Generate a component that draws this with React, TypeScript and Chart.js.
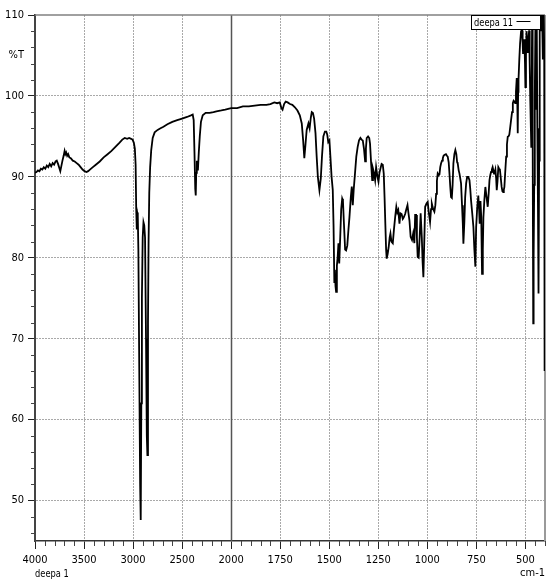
import React, { useEffect, useRef } from 'react';
import { Chart, registerables } from 'chart.js';

Chart.register(...registerables);

// ---- data ----
const wavenumbers: number[] = [
  4000, 3985, 3970, 3955, 3940, 3925, 3910, 3895, 3880, 3865, 3850, 3835, 3820, 3805, 3790, 3778, 3765, 3752, 3742, 3732,
  3720, 3708, 3698, 3690, 3682, 3672, 3662, 3650, 3635, 3615, 3595, 3575, 3555, 3535, 3515, 3495, 3475, 3458, 3440, 3410,
  3380, 3340, 3300, 3260, 3220, 3180, 3140, 3110, 3085, 3060, 3040, 3020, 3005, 2992, 2982, 2974, 2968, 2962, 2958, 2952,
  2946, 2938, 2928, 2922, 2916, 2910, 2902, 2894, 2886, 2878, 2868, 2860, 2854, 2848, 2842, 2835, 2826, 2815, 2800, 2780,
  2750, 2720, 2690, 2650, 2600, 2550, 2500, 2450, 2410, 2392, 2382, 2374, 2366, 2361, 2356, 2350, 2345, 2339, 2330, 2320,
  2308, 2290, 2260, 2220, 2180, 2150, 2100, 2060, 2030, 2000, 1970, 1940, 1910, 1880, 1850, 1820, 1800, 1780, 1765, 1752,
  1744, 1738, 1730, 1722, 1712, 1700, 1688, 1675, 1662, 1650, 1640, 1633, 1627, 1621, 1615, 1606, 1600, 1594, 1589, 1583,
  1577, 1570, 1564, 1558, 1550, 1543, 1537, 1530, 1522, 1515, 1510, 1505, 1499, 1494, 1488, 1482, 1478, 1474, 1471, 1468,
  1465, 1461, 1457, 1453, 1449, 1444, 1439, 1434, 1430, 1425, 1419, 1414, 1408, 1402, 1397, 1390, 1385, 1380, 1375, 1370,
  1362, 1355, 1348, 1341, 1335, 1329, 1323, 1317, 1313, 1309, 1302, 1296, 1292, 1286, 1281, 1277, 1272, 1266, 1261, 1254,
  1249, 1244, 1239, 1233, 1227, 1222, 1218, 1214, 1210, 1207, 1202, 1197, 1192, 1188, 1183, 1176, 1170, 1164, 1158, 1153,
  1148, 1142, 1137, 1131, 1125, 1120, 1113, 1108, 1101, 1096, 1091, 1085, 1078, 1072, 1066, 1062, 1057, 1053, 1049, 1044,
  1039, 1034, 1028, 1024, 1020, 1016, 1011, 1004, 998, 992, 986, 981, 977, 970, 964, 959, 955, 951, 947, 942,
  938, 934, 930, 925, 921, 917, 913, 905, 900, 896, 891, 887, 883, 879, 875, 871, 867, 862, 857, 852,
  848, 845, 840, 836, 832, 828, 823, 819, 816, 811, 807, 802, 797, 791, 785, 781, 777, 771, 765, 760,
  755, 751, 746, 740, 736, 733, 729, 725, 721, 717, 714, 709, 704, 698, 692, 687, 683, 679, 675, 671,
  667, 663, 660, 656, 653, 649, 646, 642, 638, 634, 630, 626, 621, 617, 613, 610, 607, 603, 598, 594,
  590, 586, 582, 578, 573, 568, 564, 560, 556, 552, 548, 544, 541, 539, 537, 535, 531, 527, 522, 517,
  514, 512, 508, 505, 502, 500, 497, 494, 491, 488, 484, 481, 478, 475, 472, 470, 468, 466, 463, 460,
  458, 455, 452, 449, 447, 445, 442, 439, 436, 433, 430, 427, 423, 419, 415, 411, 407, 404, 402,
];

const transmittance: number[] = [
  90.5, 90.6, 90.8, 90.7, 91.0, 90.9, 91.2, 91.0, 91.4, 91.2, 91.6, 91.3, 91.7, 91.5, 91.9, 92.0, 91.6, 91.1, 90.7, 91.3,
  92.0, 92.6, 93.2, 92.8, 93.0, 92.6, 92.8, 92.4, 92.3, 92.0, 91.9, 91.7, 91.5, 91.2, 90.9, 90.7, 90.6, 90.7, 90.9, 91.2,
  91.5, 91.9, 92.4, 92.8, 93.2, 93.7, 94.2, 94.6, 94.8, 94.7, 94.8, 94.7, 94.6, 94.2, 93.5, 91.5, 86.0, 83.5, 85.6, 85.2,
  81.0, 68.0, 52.0, 47.6, 62.0, 75.0, 82.5, 84.4, 84.0, 82.5, 70.0, 58.0, 55.6, 72.0, 82.0, 88.0, 91.2, 93.3, 94.8, 95.5,
  95.8, 96.0, 96.2, 96.5, 96.8, 97.0, 97.2, 97.4, 97.6, 97.7, 97.0, 93.0, 88.5, 87.7, 90.5, 92.0, 91.3, 90.8, 93.0, 95.0,
  96.8, 97.6, 97.9, 97.9, 98.0, 98.1, 98.2, 98.3, 98.4, 98.5, 98.5, 98.7, 98.7, 98.8, 98.9, 98.9, 99.0, 99.2, 99.1, 99.2,
  98.5, 98.3, 99.0, 99.3, 99.2, 99.0, 98.9, 98.6, 98.2, 97.6, 96.6, 94.5, 92.3, 94.0, 95.8, 96.6, 96.0, 97.3, 98.0, 97.9,
  97.2, 95.4, 92.5, 90.0, 88.35, 89.8, 92.5, 95.0, 95.6, 95.6, 95.2, 94.3, 94.5, 92.5, 90.0, 88.4, 84.0, 77.0, 78.5, 76.5,
  75.8, 79.0, 80.1, 81.8, 79.3, 82.5, 86.0, 87.3, 87.0, 84.2, 81.0, 80.9, 81.5, 83.5, 85.0, 87.5, 88.8, 86.5, 88.5, 90.0,
  92.5, 93.7, 94.5, 94.8, 94.6, 94.5, 93.5, 91.9, 93.5, 94.8, 95.0, 94.8, 94.1, 91.5, 89.6, 91.0, 90.5, 89.6, 91.2, 90.0,
  89.4, 90.5, 91.0, 91.6, 91.5, 90.4, 87.5, 84.2, 81.0, 79.9, 80.5, 81.3, 82.5, 83.0, 82.0, 81.8, 83.5, 85.0, 86.3, 85.6,
  85.9, 84.2, 85.5, 85.4, 84.8, 85.0, 85.4, 85.9, 86.5, 85.5, 84.6, 82.6, 82.2, 83.0, 81.8, 85.3, 85.3, 82.5, 80.1, 80.0,
  82.5, 85.5, 82.5, 79.5, 77.6, 81.5, 86.3, 86.7, 86.9, 85.5, 84.4, 86.0, 86.7, 86.0, 85.7, 86.5, 87.9, 89.5, 90.4, 90.2,
  90.3, 91.2, 91.65, 92.0, 92.3, 92.6, 92.7, 92.8, 92.6, 92.5, 91.8, 90.4, 88.8, 87.5, 87.4, 89.0, 91.65, 92.8, 93.3, 92.8,
  91.8, 91.65, 90.8, 90.4, 89.8, 89.2, 86.5, 84.2, 81.75, 84.5, 87.5, 89.2, 90.0, 90.0, 89.6, 88.5, 87.1, 85.5, 83.8, 81.0,
  78.9, 83.8, 86.0, 87.7, 86.0, 84.2, 87.0, 85.0, 78.0, 81.0, 85.0, 87.2, 88.75, 87.5, 86.3, 88.0, 89.6, 90.2, 90.6, 90.9,
  91.2, 90.8, 90.4, 90.6, 90.9, 89.8, 88.35, 89.5, 91.2, 91.0, 90.9, 90.0, 88.75, 88.2, 88.1, 88.4, 88.75, 90.5, 92.5, 94.0,
  94.95, 95.0, 95.2, 96.0, 97.0, 98.0, 99.1, 99.4, 99.3, 99.1, 100.5, 102.2, 99.0, 95.4, 100.5, 102.0, 104.5, 106.5, 108.0, 108.1,
  106.5, 105.3, 106.5, 107.0, 104.0, 101.1, 105.0, 108.0, 107.0, 105.3, 107.0, 108.1, 104.0, 99.4, 96.0, 93.7, 101.0, 108.3, 96.0, 71.9,
  80.0, 89.0, 100.0, 108.6, 98.3, 104.0, 108.7, 96.0, 86.8, 75.6, 92.0, 110.5, 110.5, 108.0, 110.5, 104.5, 110.5, 106.0, 66.0,
];

const xTickLabels: number[] = [4000, 3500, 3000, 2500, 2000, 1750, 1500, 1250, 1000, 750, 500];
const yTickValues: number[] = [50, 60, 70, 80, 90, 100, 110];
const seriesLabel = 'deepa 11';
const sampleLabel = 'deepa 1';
const xUnitLabel = 'cm-1';
const yUnitLabel = '%T';
const yUnitAt = 105;
const xStart = 4000;
const xBreak = 2000;
const xEnd = 400;
const yMin = 45;
const yMax = 110;

// Spectrometer-style axis: 4000-2000 compressed by 2 relative to 2000-400
const toU = (cm: number) => (cm >= xBreak ? (xStart - cm) / 2 : (xStart - xBreak) / 2 + (xBreak - cm));
const fromU = (u: number) => {
  const b = (xStart - xBreak) / 2;
  return u <= b ? xStart - 2 * u : xBreak - (u - b);
};

const FONT = '"Liberation Sans Narrow", "Arial Narrow", "DejaVu Sans Condensed", "Liberation Sans", sans-serif';
const TRANSPARENT = 'rgba(0,0,0,0)';
const GRID = '#a9a9a9';

const drawNarrowText = (ctx: any, text: string, x: number, y: number, squeeze: number) => {
  ctx.save();
  ctx.translate(x, y);
  ctx.scale(squeeze, 1);
  ctx.fillText(text, 0, 0);
  ctx.restore();
};

const framePlugin = {
  id: 'irFrame',
  beforeDatasetsDraw(chart: any) {
    const { ctx, chartArea: a, scales } = chart;
    const x = scales.x;
    ctx.save();
    // break line at 2000
    const xb = Math.round(x.getPixelForValue(toU(xBreak))) + 0.5;
    ctx.strokeStyle = '#555';
    ctx.lineWidth = 1.5;
    ctx.beginPath();
    ctx.moveTo(xb, a.top);
    ctx.lineTo(xb, a.bottom);
    ctx.stroke();
    // top and right frame
    ctx.strokeStyle = '#808080';
    ctx.lineWidth = 1.5;
    ctx.beginPath();
    ctx.moveTo(a.left, a.top);
    ctx.lineTo(a.right, a.top);
    ctx.stroke();
    ctx.strokeStyle = '#9a9a9a';
    ctx.lineWidth = 2;
    ctx.beginPath();
    ctx.moveTo(a.right, a.top);
    ctx.lineTo(a.right, a.bottom);
    ctx.stroke();
    ctx.restore();
  },
  afterDatasetsDraw(chart: any) {
    const { ctx, chartArea: a } = chart;
    const label = chart.data.datasets[0].label;
    const w = 69;
    const h = 14;
    const left = Math.round(a.right - 5 - w) + 0.5;
    const top = Math.round(a.top) + 0.5;
    ctx.save();
    ctx.fillStyle = '#fff';
    ctx.fillRect(left, top, w, h);
    ctx.strokeStyle = '#000';
    ctx.lineWidth = 1;
    ctx.strokeRect(left, top, w, h);
    ctx.fillStyle = '#000';
    ctx.font = '11px ' + FONT;
    ctx.textAlign = 'left';
    ctx.textBaseline = 'middle';
    drawNarrowText(ctx, label, left + 2.5, top + h / 2 + 0.5, 0.84);
    ctx.beginPath();
    ctx.moveTo(left + 45, top + 6);
    ctx.lineTo(left + 59, top + 6);
    ctx.stroke();
    ctx.restore();
  },
  afterDraw(chart: any) {
    const { ctx, chartArea: a, scales } = chart;
    const x = scales.x;
    const y = scales.y;
    ctx.save();
    ctx.strokeStyle = '#444';
    ctx.lineWidth = 1;
    // minor y ticks every 2 %T
    for (let v = yMin + 1; v < yMax; v += 2) {
      if (v % 10 === 0) continue;
      const py = Math.round(y.getPixelForValue(v)) + 0.5;
      ctx.beginPath();
      ctx.moveTo(a.left - 4, py);
      ctx.lineTo(a.left, py);
      ctx.stroke();
    }
    // minor x ticks
    const uMax = toU(xEnd);
    for (let u = 50; u <= uMax; u += 50) {
      if (u % 250 === 0) continue;
      const px = Math.round(x.getPixelForValue(u)) + 0.5;
      ctx.beginPath();
      ctx.moveTo(px, a.bottom);
      ctx.lineTo(px, a.bottom + 5);
      ctx.stroke();
    }
    ctx.fillStyle = '#000';
    ctx.font = '11px ' + FONT;
    ctx.textAlign = 'left';
    ctx.textBaseline = 'middle';
    drawNarrowText(ctx, sampleLabel, a.left, 574, 0.84);
    ctx.restore();
  },
};

export default function App() {
  const canvasRef = useRef<HTMLCanvasElement | null>(null);

  useEffect(() => {
    document.body.style.margin = '0';
    const canvas = canvasRef.current;
    if (!canvas) return;
    const points = wavenumbers.map((w, i) => ({ x: toU(w), y: transmittance[i] }));
    const font = { family: FONT, size: 11 };
    const chart = new Chart(canvas, {
      type: 'line',
      data: {
        datasets: [
          {
            label: seriesLabel,
            data: points,
            borderColor: '#000',
            borderWidth: 1.8,
            pointRadius: 0,
            tension: 0,
            fill: false,
          },
        ],
      },
      options: {
        animation: false,
        responsive: false,
        devicePixelRatio: 1,
        layout: { padding: { top: 15, right: 2, left: 0, bottom: 0 } },
        plugins: {
          legend: { display: false },
          tooltip: { enabled: false },
          title: { display: false },
        },
        scales: {
          x: {
            type: 'linear',
            position: 'bottom',
            min: 0,
            max: toU(xEnd),
            afterBuildTicks: (s: any) => {
              s.ticks = xTickLabels.map((v) => ({ value: toU(v) }));
            },
            afterFit: (s: any) => {
              s.height = 39;
            },
            ticks: {
              autoSkip: false,
              maxRotation: 0,
              padding: 5,
              color: '#000',
              font,
              callback: (v: any) => String(fromU(Number(v))),
            },
            grid: {
              color: (c: any) =>
                c.tick && (c.tick.value === 0 || c.tick.value === toU(xBreak)) ? TRANSPARENT : GRID,
              tickColor: '#222',
              tickLength: 8,
              lineWidth: 1,
              tickWidth: 1,
            },
            border: { display: true, color: '#333', width: 1.5, dash: [2, 1] },
            title: {
              display: true,
              text: xUnitLabel,
              align: 'end',
              color: '#000',
              font,
              padding: 0,
            },
          },
          y: {
            type: 'linear',
            position: 'left',
            min: yMin,
            max: yMax,
            afterBuildTicks: (s: any) => {
              const vals = [...yTickValues, yUnitAt].sort((p, q) => p - q);
              s.ticks = vals.map((v) => ({ value: v }));
            },
            afterFit: (s: any) => {
              s.width = 35;
            },
            ticks: {
              autoSkip: false,
              padding: 4,
              color: '#000',
              font,
              callback: (v: any) => (Number(v) === yUnitAt ? yUnitLabel : String(v)),
            },
            grid: {
              color: (c: any) =>
                c.tick && (c.tick.value === yMax || c.tick.value === yUnitAt) ? TRANSPARENT : GRID,
              tickColor: (c: any) => (c.tick && c.tick.value === yUnitAt ? TRANSPARENT : '#222'),
              tickLength: 7,
              lineWidth: 1,
              tickWidth: 1,
            },
            border: { display: true, color: '#444', width: 2, dash: [2, 1] },
          },
        },
      },
      plugins: [framePlugin],
    } as any);
    return () => chart.destroy();
  }, []);

  return (
    <div style={{ width: 547, height: 580 }}>
      <canvas ref={canvasRef} width={547} height={580} style={{ display: 'block' }} />
    </div>
  );
}
